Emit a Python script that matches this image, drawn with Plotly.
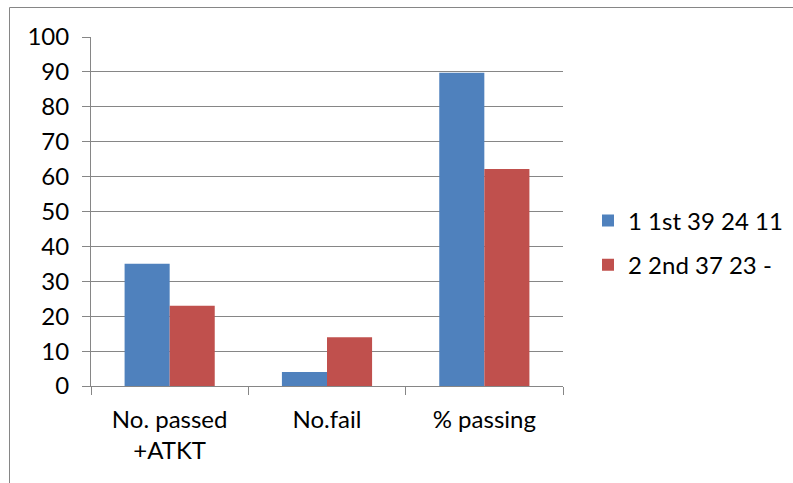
import plotly.graph_objects as go

categories = ["No. passed<br>+ATKT", "No.fail", "% passing"]
series_names = ["1 1st 39 24 11", "2 2nd 37 23 -"]
values_1st = [35, 4, 89.74]
values_2nd = [23, 14, 62.16]
colors = ["#4F81BD", "#C0504D"]
y_ticks = [0, 10, 20, 30, 40, 50, 60, 70, 80, 90, 100]

W, H = 793, 483
L, R, T, B = 91, 563, 37, 386
pw, ph = R - L, B - T

fig = go.Figure()
for name, vals, col, grp in zip(series_names, [values_1st, values_2nd], colors, ["a", "b"]):
    fig.add_trace(go.Bar(x=categories, y=vals, name=name, marker_color=col,
                         marker_line_width=0, legendgroup=grp))

font = dict(family="Lato, 'Open Sans', sans-serif", size=24, color="#000000")

def px_x(x):
    return (x - L) / pw

def px_y(y):
    return (B - y) / ph

fig.update_layout(
    width=W, height=H,
    margin=dict(l=L, r=W - R, t=T, b=H - B, autoexpand=False),
    paper_bgcolor="white", plot_bgcolor="white",
    font=font,
    barmode="group", bargap=0.427, bargroupgap=0,
    showlegend=True,
    legend=dict(x=px_x(588), y=px_y(243), xanchor="left", yanchor="middle",
                font=dict(size=24), tracegroupgap=10, traceorder="grouped",
                bgcolor="rgba(0,0,0,0)"),
    xaxis=dict(type="category", showline=True, linecolor="#868686", linewidth=1,
               ticks="outside", tickson="boundaries", ticklen=8, tickcolor="#868686",
               showgrid=False, tickfont=font, ticklabelstandoff=12),
    yaxis=dict(range=[0, 100], tickvals=y_ticks, showline=True, linecolor="#868686",
               linewidth=1, ticks="outside", ticklen=8, tickcolor="#868686",
               showgrid=True, gridcolor="#868686", gridwidth=1, zeroline=False,
               tickfont=font, ticklabelstandoff=8),
    shapes=[
        dict(type="rect", xref="paper", yref="paper",
             x0=px_x(9.5), x1=px_x(900), y0=px_y(7.5), y1=px_y(600),
             line=dict(color="#868686", width=1), fillcolor="rgba(0,0,0,0)", layer="below"),
    ],
)

fig.write_html("out.html", config={"displayModeBar": False},
               post_script="document.body.style.margin='0';document.body.style.overflow='hidden';")
